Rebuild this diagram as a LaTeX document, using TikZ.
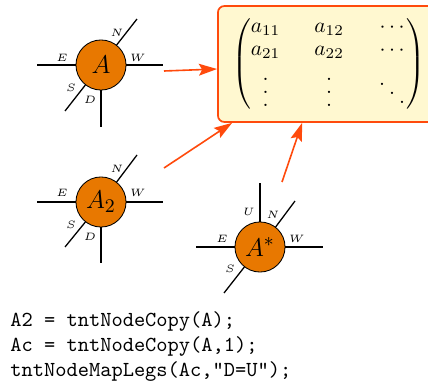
\documentclass[tikz,border=0pt]{standalone}
\usepackage{amsmath}
\usetikzlibrary{arrows.meta,calc}
\definecolor{nodeor}{HTML}{E87800}
\definecolor{arr}{HTML}{FF4A0C}
\definecolor{boxfill}{HTML}{FFF8D0}
\newcommand{\tallvdots}{\vbox{\baselineskip=6pt\lineskiplimit=0pt\kern4pt\hbox{.}\hbox{.}\hbox{.}}}
\newcommand{\tallddots}{\mathinner{\kern0.5pt\raise9.9pt\hbox{.}\kern1.9pt\raise5.6pt\hbox{.}\kern1.9pt\raise1.3pt\hbox{.}\kern0.5pt}}
\begin{document}
\begin{tikzpicture}[x=0.4673pt,y=-0.4673pt,
  leg/.style={line width=0.6pt},
  tn/.style={circle, draw, line width=0.4pt, fill=nodeor, minimum size=23.4pt, inner sep=0pt, font=\fontsize{13}{15}\selectfont},
  lab/.style={font=\tiny, inner sep=0pt},
  conn/.style={draw=arr, line width=0.75pt, -{Stealth[length=8.5pt,width=5.5pt,inset=1.5pt]}},
  codeline/.style={anchor=base west, font=\ttfamily, inner sep=0pt}]
\useasboundingbox (0,0) rectangle (428,387);

% matrix box
\node[draw=arr, fill=boxfill, rounded corners=3pt, line width=0.8pt,
      minimum width=103.3pt, minimum height=54.2pt, inner sep=0pt] (M) at (328.5,64)
  {\delimiterfactor=780 \delimitershortfall=12pt \arraycolsep=8pt$\begin{pmatrix} a_{11} & a_{12} & \cdots\\[-1pt] a_{21} & a_{22} & \cdots\\[3pt] \tallvdots & \tallvdots & \tallddots \end{pmatrix}$};

% node A
\node[tn] (A) at (101,65) {$A$};
\draw[leg] (A.west) -- ($(A)+(-64,0)$);
\draw[leg] (A.east) -- ($(A)+(62,0)$);
\draw[leg] (A.south) -- ($(A)+(0,62)$);
\draw[leg] (A.52) -- ($(A)+(36,-46)$);
\draw[leg] (A.232) -- ($(A)+(-36,46)$);
\node[lab] (Ae) at ($(A)+(-39,-7)$) {$E$};
\node[lab] (Aw) at ($(A)+(37,-7)$) {$W$};
\node[lab] (An) at ($(A)+(16,-32)$) {$N$};
\node[lab] (As) at ($(A)+(-30,23)$) {$S$};
\node[lab] (Ad) at ($(A)+(-11,35)$) {$D$};

% node A2
\node[tn] (B) at (101,202) {$A_2$};
\draw[leg] (B.west) -- ($(B)+(-64,0)$);
\draw[leg] (B.east) -- ($(B)+(62,0)$);
\draw[leg] (B.south) -- ($(B)+(0,61)$);
\draw[leg] (B.52) -- ($(B)+(36,-47)$);
\draw[leg] (B.232) -- ($(B)+(-36,45)$);
\node[lab] (Be) at ($(B)+(-39,-9)$) {$E$};
\node[lab] (Bw) at ($(B)+(37,-9)$) {$W$};
\node[lab] (Bn) at ($(B)+(16,-33)$) {$N$};
\node[lab] (Bs) at ($(B)+(-30,23)$) {$S$};
\node[lab] (Bd) at ($(B)+(-11,35)$) {$D$};

% node A*
\node[tn] (C) at (260,247) {$A^*$};
\draw[leg] (C.west) -- ($(C)+(-64,0)$);
\draw[leg] (C.east) -- ($(C)+(63,0)$);
\draw[leg] (C.north) -- ($(C)+(0,-64)$);
\draw[leg] (C.52) -- ($(C)+(35,-46)$);
\draw[leg] (C.232) -- ($(C)+(-36,46)$);
\node[lab] (Ce) at ($(C)+(-38,-8)$) {$E$};
\node[lab] (Cw) at ($(C)+(37,-8)$) {$W$};
\node[lab] (Cn) at ($(C)+(13,-32)$) {$N$};
\node[lab] (Cu) at ($(C)+(-11,-35)$) {$U$};
\node[lab] (Cs) at ($(C)+(-30,22)$) {$S$};

% arrows
\coordinate (t1) at (164,71);
\coordinate (t2) at (164,168);
\coordinate (t3) at (282,182);
\draw[conn] (t1) -- (M.west |- 0,69);
\draw[conn] (t2) -- ($(M.south west)+(15,0)$);
\draw[conn] (t3) -- ($(M.south west)+(85,0)$);

% code
\node[codeline] (c1) at (10,326) {A2 = tntNodeCopy(A);};
\node[codeline] (c2) at (10,352) {Ac = tntNodeCopy(A,1);};
\node[codeline] (c3) at (10,377) {tntNodeMapLegs(Ac,"D=U");};
\end{tikzpicture}
\end{document}
